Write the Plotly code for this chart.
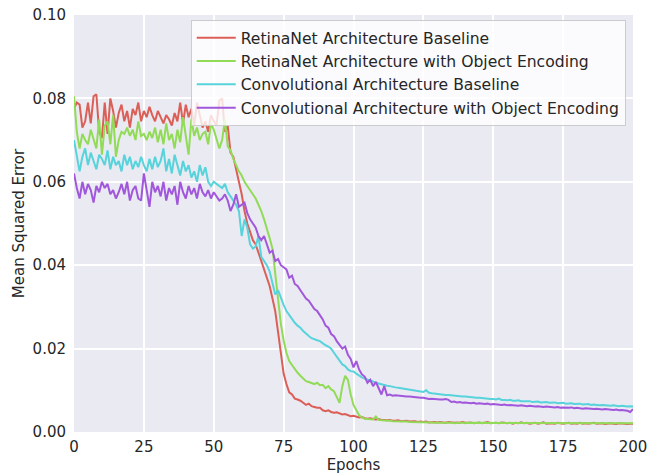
import plotly.graph_objects as go

epochs = list(range(201))

retinanet_baseline = [
    0.0775, 0.0790, 0.0785, 0.0730, 0.0745, 0.0790, 0.0740, 0.0805, 0.0810, 0.0720,
    0.0705, 0.0790, 0.0715, 0.0800, 0.0770, 0.0730, 0.0765, 0.0785, 0.0745, 0.0770,
    0.0730, 0.0775, 0.0760, 0.0790, 0.0745, 0.0770, 0.0755, 0.0780, 0.0760, 0.0745,
    0.0770, 0.0755, 0.0740, 0.0760, 0.0750, 0.0735, 0.0765, 0.0745, 0.0790, 0.0740,
    0.0785, 0.0755, 0.0775, 0.0735, 0.0790, 0.0760, 0.0730, 0.0745, 0.0720, 0.0760,
    0.0745, 0.0735, 0.0795, 0.0800, 0.0720, 0.0735, 0.0670, 0.0660, 0.0630, 0.0600,
    0.0570, 0.0530, 0.0500, 0.0480, 0.0460, 0.0450, 0.0430, 0.0410, 0.0390, 0.0370,
    0.0350, 0.0320, 0.0290, 0.0240, 0.0190, 0.0140, 0.0115, 0.0095, 0.0090, 0.0080,
    0.0078, 0.0075, 0.0070, 0.0065, 0.0068, 0.0062, 0.0060, 0.0058, 0.0058, 0.0052,
    0.0050, 0.0052, 0.0048, 0.0046, 0.0047, 0.0044, 0.0042, 0.0043, 0.0040, 0.0038,
    0.0039, 0.0037, 0.0035, 0.0036, 0.0033, 0.0032, 0.0033, 0.0031, 0.0030, 0.0031,
    0.0029, 0.0029, 0.0028, 0.0029, 0.0027, 0.0027, 0.0028, 0.0026, 0.0026, 0.0027,
    0.0025, 0.0025, 0.0026, 0.0024, 0.0025, 0.0024, 0.0025, 0.0023, 0.0024, 0.0024,
    0.0023, 0.0024, 0.0023, 0.0022, 0.0024, 0.0023, 0.0022, 0.0023, 0.0022, 0.0024,
    0.0022, 0.0022, 0.0023, 0.0021, 0.0022, 0.0023, 0.0021, 0.0022, 0.0024, 0.0021,
    0.0022, 0.0022, 0.0021, 0.0023, 0.0022, 0.0021, 0.0022, 0.0020, 0.0022, 0.0021,
    0.0023, 0.0021, 0.0022, 0.0020, 0.0021, 0.0022, 0.0020, 0.0021, 0.0023, 0.0020,
    0.0021, 0.0021, 0.0020, 0.0022, 0.0021, 0.0020, 0.0021, 0.0022, 0.0020, 0.0021,
    0.0020, 0.0022, 0.0020, 0.0021, 0.0020, 0.0021, 0.0022, 0.0020, 0.0020, 0.0021,
    0.0019, 0.0020, 0.0021, 0.0020, 0.0019, 0.0021, 0.0020, 0.0020, 0.0019, 0.0020,
    0.0020,
]

retinanet_object = [
    0.0805, 0.0720, 0.0680, 0.0715, 0.0700, 0.0690, 0.0725, 0.0705, 0.0680, 0.0750,
    0.0665, 0.0735, 0.0745, 0.0690, 0.0760, 0.0660, 0.0700, 0.0720, 0.0715, 0.0730,
    0.0710, 0.0725, 0.0700, 0.0745, 0.0710, 0.0715, 0.0700, 0.0720, 0.0705, 0.0730,
    0.0695, 0.0725, 0.0690, 0.0740, 0.0700, 0.0715, 0.0680, 0.0725, 0.0695, 0.0755,
    0.0705, 0.0665, 0.0750, 0.0710, 0.0730, 0.0700, 0.0715, 0.0720, 0.0690, 0.0740,
    0.0725, 0.0705, 0.0680, 0.0700, 0.0750, 0.0685, 0.0675, 0.0655, 0.0640, 0.0625,
    0.0615, 0.0600, 0.0590, 0.0580, 0.0570, 0.0560, 0.0545, 0.0530, 0.0510, 0.0490,
    0.0465, 0.0440, 0.0380, 0.0320, 0.0260, 0.0220, 0.0190, 0.0170, 0.0160, 0.0150,
    0.0142, 0.0135, 0.0128, 0.0122, 0.0120, 0.0118, 0.0115, 0.0118, 0.0112, 0.0113,
    0.0105, 0.0110, 0.0102, 0.0098, 0.0085, 0.0070, 0.0110, 0.0135, 0.0125, 0.0090,
    0.0065, 0.0052, 0.0040, 0.0035, 0.0032, 0.0031, 0.0030, 0.0030, 0.0037, 0.0029,
    0.0028, 0.0028, 0.0027, 0.0027, 0.0026, 0.0026, 0.0026, 0.0025, 0.0025, 0.0025,
    0.0024, 0.0024, 0.0024, 0.0024, 0.0023, 0.0023, 0.0023, 0.0023, 0.0023, 0.0022,
    0.0022, 0.0022, 0.0023, 0.0022, 0.0022, 0.0022, 0.0021, 0.0022, 0.0022, 0.0022,
    0.0021, 0.0022, 0.0022, 0.0021, 0.0022, 0.0022, 0.0021, 0.0022, 0.0021, 0.0022,
    0.0022, 0.0021, 0.0022, 0.0021, 0.0022, 0.0021, 0.0021, 0.0022, 0.0021, 0.0021,
    0.0022, 0.0021, 0.0021, 0.0022, 0.0021, 0.0021, 0.0021, 0.0022, 0.0021, 0.0021,
    0.0021, 0.0021, 0.0022, 0.0021, 0.0021, 0.0021, 0.0021, 0.0021, 0.0022, 0.0021,
    0.0021, 0.0021, 0.0021, 0.0021, 0.0021, 0.0022, 0.0021, 0.0021, 0.0021, 0.0021,
    0.0021, 0.0021, 0.0021, 0.0021, 0.0021, 0.0021, 0.0021, 0.0021, 0.0021, 0.0021,
    0.0021,
]

conv_baseline = [
    0.0700, 0.0665, 0.0625, 0.0660, 0.0680, 0.0640, 0.0670, 0.0650, 0.0630, 0.0665,
    0.0655, 0.0640, 0.0675, 0.0630, 0.0660, 0.0640, 0.0650, 0.0625, 0.0665, 0.0640,
    0.0660, 0.0630, 0.0650, 0.0635, 0.0660, 0.0640, 0.0625, 0.0655, 0.0630, 0.0660,
    0.0635, 0.0650, 0.0680, 0.0625, 0.0655, 0.0620, 0.0665, 0.0640, 0.0615, 0.0650,
    0.0625, 0.0640, 0.0610, 0.0625, 0.0600, 0.0640, 0.0615, 0.0635, 0.0600, 0.0590,
    0.0600, 0.0595, 0.0590, 0.0585, 0.0595, 0.0575, 0.0565, 0.0555, 0.0545, 0.0530,
    0.0470, 0.0510, 0.0490, 0.0450, 0.0440, 0.0445, 0.0470, 0.0420, 0.0410, 0.0400,
    0.0385, 0.0360, 0.0330, 0.0340, 0.0320, 0.0305, 0.0290, 0.0280, 0.0270, 0.0262,
    0.0255, 0.0250, 0.0242, 0.0235, 0.0230, 0.0225, 0.0222, 0.0220, 0.0218, 0.0212,
    0.0208, 0.0205, 0.0200, 0.0190, 0.0180, 0.0170, 0.0162, 0.0158, 0.0150, 0.0146,
    0.0145, 0.0140, 0.0135, 0.0131, 0.0128, 0.0126, 0.0123, 0.0121, 0.0118, 0.0116,
    0.0114, 0.0113, 0.0111, 0.0110, 0.0108, 0.0107, 0.0106, 0.0105, 0.0104, 0.0103,
    0.0102, 0.0100, 0.0099, 0.0098, 0.0097, 0.0096, 0.0100, 0.0094, 0.0093, 0.0092,
    0.0091, 0.0090, 0.0090, 0.0089, 0.0089, 0.0088, 0.0087, 0.0087, 0.0086, 0.0085,
    0.0085, 0.0084, 0.0084, 0.0083, 0.0082, 0.0082, 0.0081, 0.0081, 0.0080, 0.0079,
    0.0079, 0.0078, 0.0080, 0.0077, 0.0077, 0.0076, 0.0077, 0.0075, 0.0075, 0.0076,
    0.0074, 0.0074, 0.0073, 0.0074, 0.0072, 0.0072, 0.0073, 0.0071, 0.0071, 0.0072,
    0.0070, 0.0070, 0.0071, 0.0069, 0.0069, 0.0070, 0.0068, 0.0068, 0.0069, 0.0067,
    0.0067, 0.0068, 0.0066, 0.0066, 0.0067, 0.0065, 0.0066, 0.0065, 0.0064, 0.0065,
    0.0064, 0.0064, 0.0063, 0.0064, 0.0063, 0.0062, 0.0063, 0.0062, 0.0061, 0.0062,
    0.0061,
]

conv_object = [
    0.0620, 0.0585, 0.0560, 0.0600, 0.0570, 0.0595, 0.0580, 0.0550, 0.0590, 0.0575,
    0.0600, 0.0585, 0.0595, 0.0570, 0.0580, 0.0560, 0.0575, 0.0595, 0.0570, 0.0600,
    0.0555, 0.0580, 0.0590, 0.0560, 0.0555, 0.0620, 0.0580, 0.0540, 0.0600, 0.0575,
    0.0590, 0.0565, 0.0600, 0.0555, 0.0585, 0.0570, 0.0590, 0.0545, 0.0600, 0.0575,
    0.0560, 0.0590, 0.0570, 0.0585, 0.0560, 0.0595, 0.0575, 0.0565, 0.0580, 0.0560,
    0.0575, 0.0565, 0.0555, 0.0560, 0.0570, 0.0555, 0.0530, 0.0545, 0.0570, 0.0540,
    0.0545, 0.0550, 0.0525, 0.0510, 0.0500, 0.0490, 0.0470, 0.0460, 0.0470, 0.0450,
    0.0430, 0.0435, 0.0410, 0.0415, 0.0400, 0.0395, 0.0390, 0.0370, 0.0375, 0.0355,
    0.0350, 0.0340, 0.0330, 0.0320, 0.0315, 0.0305, 0.0295, 0.0290, 0.0280, 0.0270,
    0.0255, 0.0250, 0.0235, 0.0230, 0.0218, 0.0210, 0.0200, 0.0205, 0.0185, 0.0175,
    0.0155, 0.0170, 0.0150, 0.0138, 0.0133, 0.0118, 0.0125, 0.0110, 0.0120, 0.0105,
    0.0090, 0.0110, 0.0088, 0.0090, 0.0087, 0.0088, 0.0087, 0.0086, 0.0086, 0.0085,
    0.0085, 0.0084, 0.0083, 0.0083, 0.0082, 0.0082, 0.0081, 0.0079, 0.0080, 0.0079,
    0.0079, 0.0078, 0.0078, 0.0079, 0.0077, 0.0072, 0.0073, 0.0071, 0.0072, 0.0070,
    0.0071, 0.0070, 0.0069, 0.0070, 0.0068, 0.0069, 0.0068, 0.0067, 0.0068, 0.0066,
    0.0067, 0.0066, 0.0066, 0.0065, 0.0066, 0.0064, 0.0065, 0.0064, 0.0064, 0.0063,
    0.0064, 0.0063, 0.0062, 0.0063, 0.0062, 0.0061, 0.0062, 0.0061, 0.0060, 0.0061,
    0.0060, 0.0060, 0.0059, 0.0060, 0.0058, 0.0059, 0.0058, 0.0058, 0.0059, 0.0057,
    0.0058, 0.0057, 0.0056, 0.0057, 0.0056, 0.0056, 0.0055, 0.0056, 0.0055, 0.0054,
    0.0055, 0.0054, 0.0054, 0.0053, 0.0054, 0.0052, 0.0053, 0.0052, 0.0051, 0.0048,
    0.0055,
]

series_names = [
    "RetinaNet Architecture Baseline",
    "RetinaNet Architecture with Object Encoding",
    "Convolutional Architecture Baseline",
    "Convolutional Architecture with Object Encoding",
]
series_values = [retinanet_baseline, retinanet_object, conv_baseline, conv_object]
series_colors = ["#db5f57", "#91db57", "#57d3db", "#a157db"]

x_ticks = [0, 25, 50, 75, 100, 125, 150, 175, 200]
y_ticks = [0.00, 0.02, 0.04, 0.06, 0.08, 0.10]

fig = go.Figure()
for name, vals, col in zip(series_names, series_values, series_colors):
    fig.add_trace(go.Scatter(x=epochs, y=vals, mode="lines", name=name,
                             line=dict(color=col, width=2)))

font_color = "#262626"
fig.update_layout(
    width=661, height=474,
    margin=dict(l=74, r=28, t=15, b=42),
    paper_bgcolor="white",
    plot_bgcolor="#EAEAF2",
    font=dict(family="DejaVu Sans", size=15, color=font_color),
    showlegend=True,
    legend=dict(
        x=0.987, y=0.9876, xanchor="right", yanchor="top",
        bgcolor="rgba(255,255,255,0.8)", bordercolor="#cccccc", borderwidth=1,
        itemwidth=39,
        font=dict(family="DejaVu Sans", size=15.6, color=font_color),
    ),
)
fig.update_xaxes(
    range=[0, 200], tickvals=x_ticks, ticktext=[str(t) for t in x_ticks],
    showgrid=True, gridcolor="white", gridwidth=1.5, zeroline=False,
    showline=False, ticks="outside", ticklen=1, tickcolor="rgba(0,0,0,0)",
    automargin=False, ticklabeloverflow="allow",
    title=dict(text="Epochs", standoff=3, font=dict(size=15)),
)
fig.update_yaxes(
    range=[0, 0.10], tickvals=y_ticks, ticktext=["%.2f" % t for t in y_ticks],
    showgrid=True, gridcolor="white", gridwidth=1.5, zeroline=False,
    showline=False, ticks="outside", ticklen=4, tickcolor="rgba(0,0,0,0)",
    automargin=False, ticklabeloverflow="allow",
    title=dict(text="Mean Squared Error", standoff=4, font=dict(size=15)),
)

fig.write_html("out.html", config={"displayModeBar": False},
               post_script="document.body.style.margin='0';")
